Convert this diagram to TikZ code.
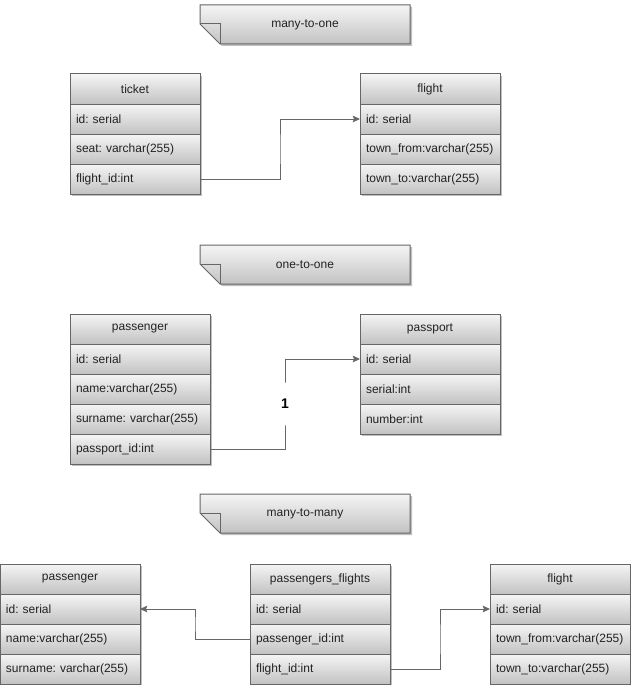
\documentclass[tikz,border=0pt]{standalone}
\usepackage{fontspec}
\setmainfont{Liberation Sans}
\frenchspacing
\usetikzlibrary{arrows.meta, positioning, calc, shadows}
\definecolor{grisBorde}{HTML}{666666}
\definecolor{grisArriba}{HTML}{F5F5F5}
\definecolor{grisAbajo}{HTML}{C2C2C2}
\definecolor{grisTexto}{HTML}{222222}
\colorlet{colBorde}{grisBorde}
\colorlet{colArriba}{grisArriba}
\colorlet{colAbajo}{grisAbajo}
\colorlet{colTexto}{grisTexto}
\tikzset{
  sombra/.style={drop shadow={shadow xshift=1.5pt, shadow yshift=-1.5pt,
    opacity=.25, fill=black}},
  celdaBase/.style={
    draw=colBorde, line width=.75pt, top color=colArriba, bottom color=colAbajo,
    minimum height=22.5pt, inner xsep=4.5pt, inner ysep=0pt, outer sep=0pt,
    font=\fontsize{9}{11}\selectfont, text=colTexto, sombra
  },
  encabezado/.style={celdaBase, text width=#1, align=center, anchor=north west},
  fila/.style={celdaBase, text width=#1, align=left},
  notaForma/.style={draw=colBorde, line width=.75pt, top color=colArriba,
    bottom color=colAbajo, sombra},
  nota/.style={font=\fontsize{9}{11}\selectfont, text=colTexto},
  flecha/.style={-{Stealth[length=5.5pt, width=5pt, inset=1pt]}, line width=.75pt, colBorde},
  etiquetaFlecha/.style={font=\fontsize{10.5}{12}\selectfont\bfseries, text=black,
    fill=white, inner xsep=2pt, inner ysep=0pt, minimum height=31.5pt},
}
\begin{document}
\begin{tikzpicture}[x=0.75pt, y=-0.75pt]
  \useasboundingbox (0,0) rectangle (631,685);

  % notas
  \foreach \y/\texto/\nombre in {5/many-to-one/notaMuchosUno,
      245/one-to-one/notaUnoUno, 494/many-to-many/notaMuchosMuchos} {
    \path[notaForma] (200,\y) -- (410,\y) -- (410,\y+39) -- (220,\y+39)
      -- (200,\y+19) -- cycle;
    \draw[colBorde, line width=.75pt] (200,\y+19) -- (220,\y+19) -- (220,\y+39);
    \node[nota] (\nombre) at (305,\y+19.5) {\texto};
  }

  % many-to-one
  \node[encabezado=88.5pt] (ticket) at (70,74) {ticket};
  \node[fila=88.5pt, below=0pt of ticket] (ticketId) {id: serial};
  \node[fila=88.5pt, below=0pt of ticketId] (ticketSeat) {seat: varchar(255)};
  \node[fila=88.5pt, below=0pt of ticketSeat] (ticketFlight) {flight\_id:int};

  \node[encabezado=96pt] (flight) at (360,74) {flight};
  \node[fila=96pt, below=0pt of flight] (flightId) {id: serial};
  \node[fila=96pt, below=0pt of flightId] (flightFrom) {town\_from:varchar(255)};
  \node[fila=96pt, below=0pt of flightFrom] (flightTo) {town\_to:varchar(255)};

  \draw[flecha] (ticketFlight.east) -| ($(ticketFlight.east)!.5!(flightId.west)$)
    |- (flightId.west);

  % one-to-one
  \node[encabezado=96pt] (passenger) at (70,314) {passenger};
  \node[fila=96pt, below=0pt of passenger] (passengerId) {id: serial};
  \node[fila=96pt, below=0pt of passengerId] (passengerName) {name:varchar(255)};
  \node[fila=96pt, below=0pt of passengerName] (passengerSurname) {surname: varchar(255)};
  \node[fila=96pt, below=0pt of passengerSurname] (passengerPassport) {passport\_id:int};

  \node[encabezado=96pt] (passport) at (360,314) {passport};
  \node[fila=96pt, below=0pt of passport] (passportId) {id: serial};
  \node[fila=96pt, below=0pt of passportId] (passportSerial) {serial:int};
  \node[fila=96pt, below=0pt of passportSerial] (passportNumber) {number:int};

  \draw[flecha] (passengerPassport.east)
    -| ($(passengerPassport.east)!.5!(passportId.west)$) node[etiquetaFlecha]{1}
    |- (passportId.west);

  % many-to-many
  \node[encabezado=96pt] (pasajero) at (0,564) {passenger};
  \node[fila=96pt, below=0pt of pasajero] (pasajeroId) {id: serial};
  \node[fila=96pt, below=0pt of pasajeroId] (pasajeroName) {name:varchar(255)};
  \node[fila=96pt, below=0pt of pasajeroName] (pasajeroSurname) {surname: varchar(255)};

  \node[encabezado=96pt] (pasajerosVuelos) at (250,564) {passengers\_flights};
  \node[fila=96pt, below=0pt of pasajerosVuelos] (pvId) {id: serial};
  \node[fila=96pt, below=0pt of pvId] (pvPassenger) {passenger\_id:int};
  \node[fila=96pt, below=0pt of pvPassenger] (pvFlight) {flight\_id:int};

  \node[encabezado=96pt] (vuelo) at (490,564) {flight};
  \node[fila=96pt, below=0pt of vuelo] (vueloId) {id: serial};
  \node[fila=96pt, below=0pt of vueloId] (vueloFrom) {town\_from:varchar(255)};
  \node[fila=96pt, below=0pt of vueloFrom] (vueloTo) {town\_to:varchar(255)};

  \draw[flecha] (pvPassenger.west) -| ($(pvPassenger.west)!.5!(pasajeroId.east)$)
    |- (pasajeroId.east);
  \draw[flecha] (pvFlight.east) -| ($(pvFlight.east)!.5!(vueloId.west)$)
    |- (vueloId.west);
\end{tikzpicture}
\end{document}
